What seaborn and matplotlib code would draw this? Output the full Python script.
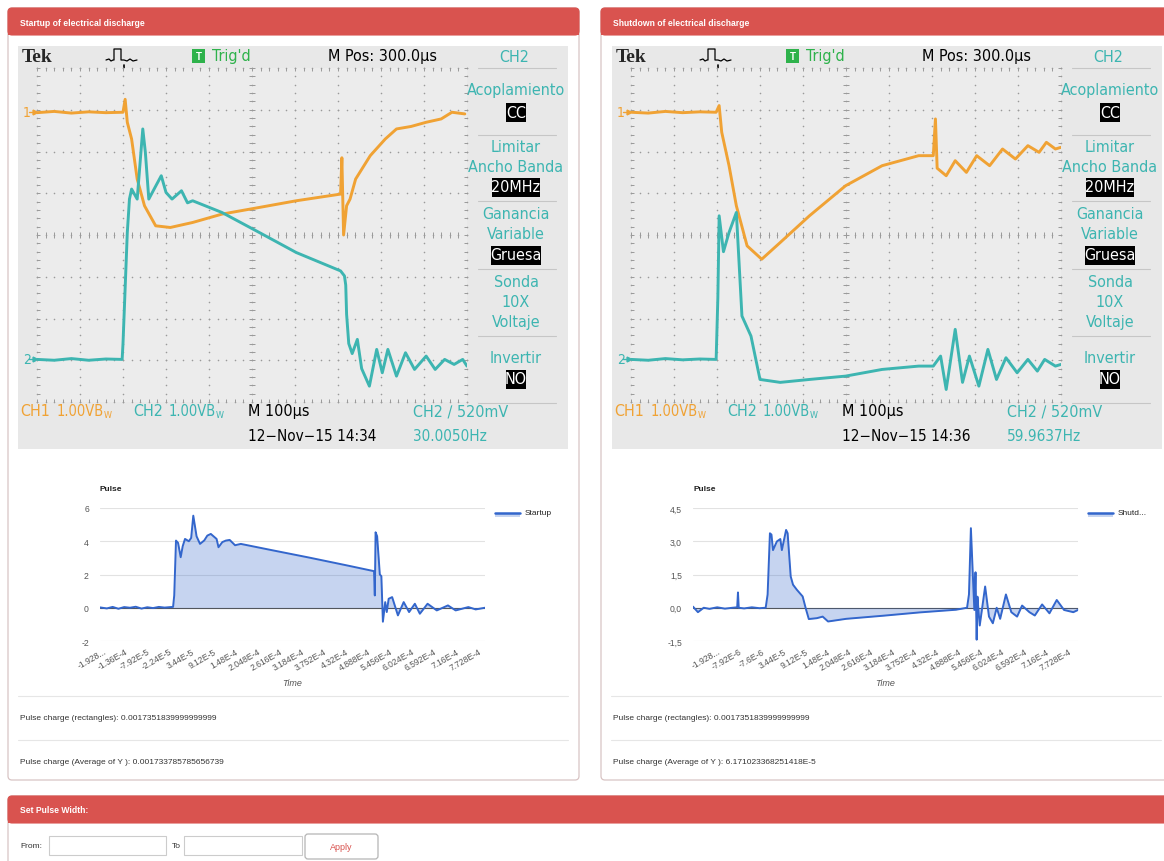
import numpy as np
import seaborn as sns
import matplotlib
matplotlib.use("Agg")
import matplotlib.pyplot as plt
from matplotlib.patches import Rectangle, FancyBboxPatch

# oscilloscope traces in divisions (x 0-10, y 0-8)
su_ch1_x = [0, 0.4, 0.8, 1.2, 1.6, 2.0, 2.05, 2.1, 2.2, 2.33, 2.5, 2.76, 3.1, 3.62, 4.3, 5.17,
            6.03, 7.06, 7.09, 7.13, 7.2, 7.28, 7.41, 7.75, 8.1, 8.36, 8.7, 9.05, 9.4, 9.65, 9.95]
su_ch1_y = [6.93, 6.96, 6.92, 6.95, 6.93, 6.94, 7.25, 6.7, 6.30, 5.34, 4.70, 4.22, 4.18, 4.30, 4.50, 4.66,
            4.82, 4.98, 5.85, 4.0, 4.7, 4.86, 5.34, 5.9, 6.3, 6.54, 6.6, 6.7, 6.78, 6.94, 6.9]
su_ch2_x = [0, 0.4, 0.8, 1.2, 1.6, 1.98, 2.0, 2.1, 2.15, 2.2, 2.33, 2.46, 2.52, 2.6, 2.76, 2.89, 3.0,
            3.14, 3.36, 3.5, 3.62, 4.3, 5.17, 6.03, 7.06, 7.15, 7.18, 7.2, 7.25, 7.33, 7.45, 7.55, 7.73,
            7.9, 8.03, 8.16, 8.36, 8.57, 8.78, 9.05, 9.26, 9.48, 9.7, 9.9, 10.0]
su_ch2_y = [1.02, 1.0, 1.04, 1.0, 1.03, 1.02, 1.4, 4.06, 4.86, 5.1, 4.86, 6.54, 5.98, 4.86, 5.17, 5.42, 5.02,
            4.86, 5.06, 4.77, 4.82, 4.54, 4.06, 3.58, 3.14, 3.02, 2.8, 2.1, 1.4, 1.16, 1.5, 0.8, 0.38,
            1.26, 0.7, 1.26, 0.62, 1.18, 0.78, 1.1, 0.78, 1.02, 0.9, 1.02, 0.86]

sd_ch1_x = [0, 0.4, 0.8, 1.2, 1.6, 1.98, 2.05, 2.11, 2.28, 2.45, 2.7, 3.04, 3.47, 4.15, 4.99, 5.84,
            6.69, 7.03, 7.08, 7.12, 7.33, 7.54, 7.8, 8.04, 8.34, 8.64, 8.94, 9.23, 9.49, 9.66, 9.87, 10.0]
sd_ch1_y = [6.94, 6.92, 6.96, 6.93, 6.95, 6.94, 7.1, 6.46, 5.66, 4.7, 3.74, 3.42, 3.82, 4.46, 5.18, 5.66,
            5.9, 5.9, 6.78, 5.6, 5.42, 5.78, 5.5, 5.9, 5.66, 6.06, 5.82, 6.14, 5.98, 6.22, 6.06, 6.1]
sd_ch2_x = [0, 0.4, 0.8, 1.2, 1.6, 1.98, 2.02, 2.05, 2.15, 2.28, 2.45, 2.58, 2.79, 3.0, 3.47, 4.15,
            4.99, 5.84, 6.69, 7.03, 7.2, 7.33, 7.54, 7.71, 7.87, 8.09, 8.3, 8.5, 8.72, 8.98, 9.23,
            9.45, 9.62, 9.87, 10.0]
sd_ch2_y = [1.02, 1.0, 1.04, 1.01, 1.03, 1.02, 2.5, 4.46, 3.6, 4.06, 4.54, 2.06, 1.58, 0.54, 0.47, 0.54,
            0.62, 0.78, 0.86, 0.86, 1.1, 0.3, 1.74, 0.47, 1.1, 0.38, 1.26, 0.54, 1.06, 0.7, 1.02,
            0.74, 1.02, 0.86, 0.9]

# pulse charts (time in microseconds)
su_t = [-192.8, -175, -160, -145, -130, -115, -100, -85, -70, -55, -40, -25, -10, -3, 0, 4.6, 10, 16.8,
        22, 28, 38, 44, 49.5, 58, 67, 78, 86, 95, 110, 115, 125, 134, 144, 158, 173, 250, 350, 450,
        519, 521, 523, 527, 531, 534, 538, 542, 548, 552, 557, 566, 581, 596, 610, 625, 638, 658,
        682, 711, 731, 764, 783, 807.2]
su_v = [0.02, -0.04, 0.05, -0.06, 0.04, 0.0, 0.06, -0.05, 0.03, -0.02, 0.05, 0.01, 0.04, 0.05, 0.74,
        4.04, 3.9, 3.04, 3.7, 4.14, 4.0, 4.2, 5.54, 4.3, 3.84, 4.05, 4.34, 4.44, 4.14, 3.64, 3.95,
        4.04, 4.08, 3.76, 3.84, 3.48, 3.02, 2.54, 2.2, 0.74, 4.54, 4.3, 3.0, 2.0, 1.9, -0.84, 0.34,
        -0.26, 0.54, 0.64, -0.46, 0.34, -0.26, 0.24, -0.36, 0.24, -0.16, 0.14, -0.16, 0.04, -0.1, 0.0]
sd_t = [-192.8, -180, -165, -150, -130, -110, -90, -78, -76, -74, -60, -40, -20, -4, 1, 7, 11, 15, 25,
        34, 38, 49, 53, 61, 67, 77, 92, 101, 108, 129, 144, 158, 205, 301, 396, 490, 519, 524, 529,
        534, 538, 541, 544, 546, 549, 552, 566, 576, 586, 596, 605, 620, 634, 649, 662, 681, 695,
        714, 733, 752, 771, 795, 807.2]
sd_v = [0.05, -0.2, 0.0, -0.05, 0.02, -0.04, 0.0, 0.02, 0.69, 0.0, -0.03, 0.02, -0.02, 0.0, 0.6, 3.36,
        3.3, 2.6, 2.99, 3.1, 2.6, 3.51, 3.36, 1.41, 1.04, 0.81, 0.51, -0.09, -0.51, -0.47, -0.4,
        -0.62, -0.5, -0.36, -0.21, -0.09, 0.0, 0.6, 3.59, 1.5, -0.1, 1.6, -1.44, 0.5, -0.2, -0.8,
        0.96, -0.4, -0.7, 0.0, -0.5, 0.6, -0.2, -0.4, 0.1, -0.2, -0.35, 0.15, -0.25, 0.35, -0.1,
        -0.2, -0.1]

su_yticks = [-2, 0, 2, 4, 6]
su_ylabels = ["-2", "0", "2", "4", "6"]
sd_yticks = [-1.5, 0, 1.5, 3, 4.5]
sd_ylabels = ["-1,5", "0,0", "1,5", "3,0", "4,5"]
su_xlabels = ["-1.928...", "-1.36E-4", "-7.92E-5", "-2.24E-5", "3.44E-5", "9.12E-5", "1.48E-4",
              "2.048E-4", "2.616E-4", "3.184E-4", "3.752E-4", "4.32E-4", "4.888E-4", "5.456E-4",
              "6.024E-4", "6.592E-4", "7.16E-4", "7.728E-4"]
sd_xlabels = ["-1.928...", "-7.92E-6", "-7.6E-6", "3.44E-5", "9.12E-5", "1.48E-4", "2.048E-4",
              "2.616E-4", "3.184E-4", "3.752E-4", "4.32E-4", "4.888E-4", "5.456E-4", "6.024E-4",
              "6.592E-4", "7.16E-4", "7.728E-4"]

sns.set_theme(style="white")
plt.rcParams['font.family'] = ['Liberation Sans', 'DejaVu Sans']

RED = '#d9534f'
ORANGE = '#f0a234'
TEAL = '#3db5b1'
BLUE = '#3366cc'
SCOPE = ['Liberation Sans Narrow', 'DejaVu Sans']

W, H = 1164, 862
fig = plt.figure(figsize=(W / 100, H / 100), dpi=100)
bg = fig.add_axes([0, 0, 1, 1])
bg.set_xlim(0, W)
bg.set_ylim(H, 0)
bg.axis('off')
renderer = fig.canvas.get_renderer()


def add_ax(x, y, w, h):
    return fig.add_axes([x / W, 1 - (y + h) / H, w / W, h / H])


def panel(x0, x1, y0, y1, title):
    bg.add_patch(FancyBboxPatch((x0, y0), x1 - x0, y1 - y0, boxstyle='round,pad=0,rounding_size=4',
                                fc='white', ec='#d8c4c4', lw=0.9, zorder=1))
    bg.add_patch(FancyBboxPatch((x0, y0), x1 - x0, 27, boxstyle='round,pad=0,rounding_size=4',
                                fc=RED, ec=RED, lw=0.8, zorder=2))
    bg.add_patch(Rectangle((x0, y0 + 18), x1 - x0, 9, fc=RED, lw=0, zorder=2))
    bg.text(x0 + 12, y0 + 14, title, color='white', weight='bold', fontsize=6.2, va='center', zorder=3)


def stext(x, y, s, color, size=11.5, ha='left', **kw):
    return bg.text(x, y, s, color=color, fontsize=size, ha=ha, va='center', family=SCOPE,
                   fontstretch='condensed', zorder=5, **kw)


def volts(x, y, color):
    # "1.00VB" with a small W subscript, as on the scope readout
    t = stext(x, y, '1.00VB', color, size=10.5)
    x1 = t.get_window_extent(renderer).x1
    stext(x1, y + 4, 'W', color, size=6.5)


def scope(dx, ch1x, ch1y, ch2x, ch2y, stamp, freq):
    bg.add_patch(Rectangle((18 + dx, 47), 550, 403, fc='#e8e8e8', lw=0, zorder=3))
    ax = add_ax(37 + dx, 69, 430, 334)
    ax.set_facecolor('#ececec')
    ax.set_xlim(0, 10)
    ax.set_ylim(0, 8)
    ax.set_xticks([])
    ax.set_yticks([])
    for s in ax.spines.values():
        s.set_visible(False)
    gx = np.linspace(0, 10, 51)
    gy = np.linspace(0, 8, 41)
    for k in range(0, 11):
        ax.scatter(np.full(41, k), gy, s=1.3, color='#9a9a9a', lw=0, clip_on=False)
    for k in range(0, 9):
        ax.scatter(gx, np.full(51, k), s=1.3, color='#9a9a9a', lw=0, clip_on=False)
    kw = dict(color='#9a9a9a', lw=0.7)
    ax.vlines(gx, 3.93, 4.07, **kw)
    ax.hlines(gy, 4.94, 5.06, **kw)
    ax.vlines(gx, 7.92, 8.0, **kw)
    ax.vlines(gx, 0.0, 0.08, **kw)
    ax.hlines(gy, 0.0, 0.06, **kw)
    ax.hlines(gy, 9.94, 10.0, **kw)
    sns.lineplot(x=ch1x, y=ch1y, ax=ax, color=ORANGE, lw=2.1, estimator=None, sort=False)
    sns.lineplot(x=ch2x, y=ch2y, ax=ax, color=TEAL, lw=2.1, estimator=None, sort=False)
    ax.set_xlabel('')
    ax.set_ylabel('')

    # header row
    bg.text(22 + dx, 58, 'Tek', family=['Liberation Serif', 'DejaVu Serif'], weight='bold',
            fontsize=14, va='center', zorder=5)
    bg.plot(np.array([106, 109, 111, 113, 114, 114, 121, 121, 124, 127, 130, 133, 137]) + dx,
            [61, 60, 62, 61, 61, 50, 50, 61, 61, 62, 60, 62, 61], color='black', lw=0.9, zorder=5)
    bg.plot([124 + dx, 124 + dx], [66, 74], color='black', lw=1.2, zorder=5)
    bg.plot(124 + dx, 76, marker='v', ms=5, color='black', zorder=5)
    bg.add_patch(Rectangle((192 + dx, 50), 13, 14, fc='#2eb24b', lw=0, zorder=5))
    bg.text(198.5 + dx, 57, 'T', color='white', fontsize=7, weight='bold', ha='center', va='center', zorder=6)
    stext(212 + dx, 57, "Trig'd", '#2eb24b')
    stext(328 + dx, 57, 'M Pos: 300.0\u00b5s', 'black')
    stext(514 + dx, 57, 'CH2', TEAL, ha='center')

    # side menu
    for yy in [69, 136, 202, 270, 337, 404]:
        bg.plot([478 + dx, 556 + dx], [yy, yy], color='#c6c6c6', lw=0.8, zorder=5)
    for s, yy in [('Acoplamiento', 91), ('Limitar', 148), ('Ancho Banda', 168), ('Ganancia', 215),
                  ('Variable', 235), ('Sonda', 283), ('10X', 303), ('Voltaje', 323), ('Invertir', 359)]:
        stext(516 + dx, yy, s, TEAL, ha='center')
    for s, yy, w in [('CC', 113, 20), ('20MHz', 188, 48), ('Gruesa', 256, 50), ('NO', 380, 20)]:
        bg.add_patch(Rectangle((516 + dx - w / 2, yy - 9.5), w, 19, fc='black', lw=0, zorder=5))
        stext(516 + dx, yy, s, 'white', ha='center')

    # channel markers
    stext(23 + dx, 113, '1', ORANGE, size=10)
    bg.plot([29 + dx, 35 + dx], [113, 113], color=ORANGE, lw=1, zorder=5)
    bg.plot(35 + dx, 113, marker='>', ms=3.5, color=ORANGE, zorder=5)
    stext(23 + dx, 360, '2', TEAL, size=10)
    bg.plot([29 + dx, 35 + dx], [360, 360], color=TEAL, lw=1, zorder=5)
    bg.plot(35 + dx, 360, marker='>', ms=3.5, color=TEAL, zorder=5)
    bg.plot([456 + dx, 464 + dx], [341, 341], color=TEAL, lw=1.2, zorder=5)
    bg.plot(456 + dx, 341, marker='<', ms=4.5, color=TEAL, zorder=5)

    # bottom readout
    stext(20 + dx, 412, 'CH1', ORANGE)
    volts(57 + dx, 412, ORANGE)
    stext(133 + dx, 412, 'CH2', TEAL)
    volts(169 + dx, 412, TEAL)
    stext(248 + dx, 412, 'M 100\u00b5s', 'black')
    stext(413 + dx, 412, 'CH2 \u2215 520mV', TEAL)
    stext(248 + dx, 437, stamp, 'black', size=11)
    stext(413 + dx, 437, freq, TEAL, size=11)


def pulse(dx, t, v, yt, ylab, ticks, tlabels, name):
    ax = add_ax(100 + dx, 509, 385, 133)
    ax.set_facecolor('none')
    ax.fill_between(t, v, 0, color=BLUE, alpha=0.28, lw=0, zorder=2)
    sns.lineplot(x=t, y=v, ax=ax, color=BLUE, lw=1.4, estimator=None, sort=False, zorder=3)
    ax.axhline(0, color='#555555', lw=0.8, zorder=1)
    ax.set_xlim(-192.8, 807.2)
    ax.set_ylim(yt[0], yt[-1])
    ax.set_yticks(yt, ylab)
    ax.grid(axis='y', color='#e2e2e2', lw=0.8)
    ax.grid(axis='x', visible=False)
    ax.set_xticks(ticks, tlabels, rotation=30, ha='right', rotation_mode='anchor')
    ax.tick_params(labelsize=6.2, colors='#555555', length=0)
    ax.tick_params(axis='x', pad=4)
    ax.tick_params(axis='y', pad=8)
    for s in ax.spines.values():
        s.set_visible(False)
    ax.set_xlabel('Time', style='italic', fontsize=6.5, color='#555555', labelpad=4)
    ax.set_ylabel('')
    bg.text(100 + dx, 490, 'Pulse', weight='bold', fontsize=6, color='#222222', va='center', zorder=5)
    bg.add_patch(Rectangle((495 + dx, 514), 25, 4, fc=BLUE, alpha=0.28, lw=0, zorder=5))
    bg.plot([495 + dx, 520 + dx], [514, 514], color=BLUE, lw=1.8, zorder=5)
    bg.text(525 + dx, 514, name, fontsize=6, color='#222222', va='center', zorder=5)


panel(8, 579, 9, 781, 'Startup of electrical discharge')
panel(601, 1180, 9, 781, 'Shutdown of electrical discharge')
panel(8, 1180, 797, 890, 'Set Pulse Width:')

scope(0, su_ch1_x, su_ch1_y, su_ch2_x, su_ch2_y, '12\u2212Nov\u221215 14:34', '30.0050Hz')
scope(594, sd_ch1_x, sd_ch1_y, sd_ch2_x, sd_ch2_y, '12\u2212Nov\u221215 14:36', '59.9637Hz')

pulse(0, su_t, su_v, su_yticks, su_ylabels, np.linspace(-185, 789, len(su_xlabels)), su_xlabels, 'Startup')
pulse(593, sd_t, sd_v, sd_yticks, sd_ylabels, np.linspace(-130, 781, len(sd_xlabels)), sd_xlabels, 'Shutd...')

# charge readouts
for dx, rect, avg in [(0, '0.0017351839999999999', '0.001733785785656739'),
                      (593, '0.0017351839999999999', '6.171023368251418E-5')]:
    for yy in [697, 741]:
        bg.plot([18 + dx, 568 + dx], [yy, yy], color='#e6e6e6', lw=0.8, zorder=3)
    bg.text(20 + dx, 719, 'Pulse charge (rectangles): ' + rect, fontsize=6, color='#333333', va='center', zorder=3)
    bg.text(20 + dx, 763, 'Pulse charge (Average of Y ): ' + avg, fontsize=6, color='#333333', va='center', zorder=3)

# pulse width form
bg.text(20, 847, 'From:', fontsize=6, color='#333333', va='center', zorder=3)
bg.add_patch(Rectangle((49, 837), 117, 19, fc='white', ec='#cccccc', lw=0.8, zorder=3))
bg.text(172, 847, 'To', fontsize=6, color='#333333', va='center', zorder=3)
bg.add_patch(Rectangle((184, 837), 118, 19, fc='white', ec='#cccccc', lw=0.8, zorder=3))
bg.add_patch(FancyBboxPatch((305, 835), 73, 25, boxstyle='round,pad=0,rounding_size=3',
                            fc='white', ec='#b5b5b5', lw=0.9, zorder=3))
bg.text(341, 848, 'Apply', fontsize=6.5, color=RED, ha='center', va='center', zorder=4)

fig.savefig('out.png', dpi=100, facecolor='white')
